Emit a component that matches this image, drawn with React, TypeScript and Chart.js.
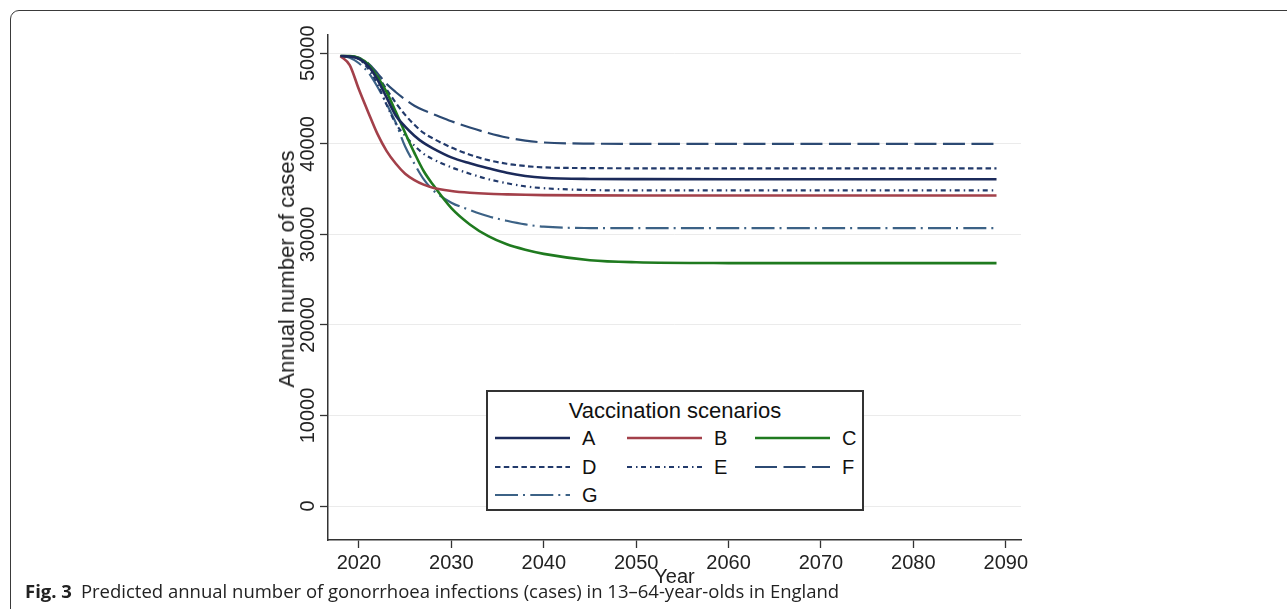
import React, { useEffect, useRef } from "react";
import { Chart, registerables } from "chart.js";

Chart.register(...registerables);

// ---- data ----
const years = [2018, 2019, 2020, 2021, 2022, 2023, 2024, 2025, 2026, 2027, 2028, 2030, 2032, 2034, 2036, 2038, 2040, 2045, 2050, 2060, 2070, 2080, 2089];

const seriesA = [49700, 49650, 49400, 48600, 47100, 45100, 43100, 41900, 40900, 40100, 39500, 38500, 37850, 37300, 36800, 36450, 36250, 36120, 36100, 36090, 36090, 36090, 36090];
const seriesB = [49700, 48700, 46000, 43500, 41100, 39200, 37800, 36700, 36000, 35500, 35150, 34800, 34600, 34480, 34420, 34370, 34340, 34310, 34300, 34300, 34300, 34300, 34300];
const seriesC = [49700, 49700, 49500, 48800, 47400, 45700, 43500, 41200, 39000, 37000, 35500, 32900, 31100, 29800, 28900, 28300, 27850, 27150, 26920, 26830, 26820, 26820, 26820];
const seriesD = [49700, 49650, 49450, 48700, 47500, 46000, 44500, 43200, 42100, 41200, 40600, 39600, 38800, 38200, 37800, 37550, 37400, 37320, 37300, 37300, 37300, 37300, 37300];
const seriesE = [49700, 49650, 49350, 48300, 46600, 44300, 42200, 40900, 39800, 38900, 38300, 37400, 36700, 36100, 35650, 35300, 35100, 34900, 34850, 34850, 34850, 34850, 34850];
const seriesF = [49700, 49700, 49500, 48900, 47800, 46600, 45700, 44900, 44200, 43700, 43300, 42500, 41800, 41200, 40700, 40350, 40150, 40020, 40000, 40000, 40000, 40000, 40000];
const seriesG = [49700, 49500, 48900, 47900, 46300, 44400, 42300, 39700, 37800, 36100, 34900, 33500, 32700, 32000, 31500, 31100, 30850, 30700, 30680, 30680, 30680, 30680, 30680];

const scenarioLabels = ["A", "B", "C", "D", "E", "F", "G"];
const xTicks = [2020, 2030, 2040, 2050, 2060, 2070, 2080, 2090];
const yTicks = [0, 10000, 20000, 30000, 40000, 50000];

const legendTitle = "Vaccination scenarios";
const xTitle = "Year";
const yTitle = "Annual number of cases";
const captionBold = "Fig. 3";
const captionText = "Predicted annual number of gonorrhoea infections (cases) in 13\u201364-year-olds in England";

// ---- styles ----
const styles = [
  { color: "#1b2a5a", width: 2.6, dash: [] as number[] },
  { color: "#a3404a", width: 2.6, dash: [] as number[] },
  { color: "#1f7a1f", width: 2.6, dash: [] as number[] },
  { color: "#223a6b", width: 2.2, dash: [5.5, 3.3] },
  { color: "#223a6b", width: 2.2, dash: [5, 4, 1.5, 3.5] },
  { color: "#2c4a73", width: 2.2, dash: [22, 6.5] },
  { color: "#3c6286", width: 2.2, dash: [23, 5, 2, 5.3] },
];

const allSeries = [seriesA, seriesB, seriesC, seriesD, seriesE, seriesF, seriesG];

const W = 1287;
const H = 609;
const FONT = "'Liberation Sans', Arial, sans-serif";

function LegendSample({ idx }: { idx: number }) {
  const s = styles[idx];
  return (
    <svg width={75} height={8} style={{ display: "block" }}>
      <line
        x1={0}
        y1={4}
        x2={75}
        y2={4}
        stroke={s.color}
        strokeWidth={s.width}
        strokeDasharray={s.dash.length ? s.dash.join(" ") : undefined}
      />
    </svg>
  );
}

export default function App() {
  const canvasRef = useRef<HTMLCanvasElement | null>(null);

  useEffect(() => {
    const canvas = canvasRef.current;
    if (!canvas) return;
    const chart = new Chart(canvas, {
      type: "line",
      data: {
        datasets: scenarioLabels.map((label, i) => ({
          label,
          data: years.map((yr, j) => ({ x: yr, y: allSeries[i][j] })),
          borderColor: styles[i].color,
          backgroundColor: styles[i].color,
          borderWidth: styles[i].width,
          borderDash: styles[i].dash,
          pointRadius: 0,
          cubicInterpolationMode: "monotone" as const,
          fill: false,
        })),
      },
      options: {
        responsive: false,
        maintainAspectRatio: false,
        animation: false,
        layout: { padding: { left: 276, right: W - 1021, top: 35, bottom: 22 } },
        plugins: {
          legend: { display: false },
          tooltip: { enabled: false },
        },
        scales: {
          x: {
            type: "linear",
            min: 2016.65,
            max: 2091.65,
            afterBuildTicks: (s: any) => {
              s.ticks = xTicks.map((v) => ({ value: v }));
            },
            afterFit: (s: any) => {
              s.height = 47;
            },
            ticks: {
              font: { family: FONT, size: 20 },
              color: "#222",
              padding: 3,
              maxRotation: 0,
              autoSkip: false,
              callback: (v: any) => String(v),
            },
            grid: { drawOnChartArea: false, tickLength: 8, tickColor: "#333", tickWidth: 1.3 },
            border: { color: "#333", width: 1.5 },
            title: {
              display: true,
              text: xTitle,
              font: { family: FONT, size: 20, lineHeight: 1 },
              color: "#222",
              padding: 0,
            },
          },
          y: {
            type: "linear",
            min: -3753,
            max: 52020,
            afterBuildTicks: (s: any) => {
              s.ticks = yTicks.map((v) => ({ value: v }));
            },
            afterFit: (s: any) => {
              s.width = 52;
            },
            ticks: {
              font: { family: FONT, size: 20 },
              color: "#222",
              padding: -16,
              crossAlign: "center",
              minRotation: 90,
              maxRotation: 90,
              callback: (v: any) => String(v),
            },
            grid: { color: "#ebebeb", lineWidth: 1, tickLength: 8, tickColor: "#333", tickWidth: 1.3 },
            border: { color: "#333", width: 1.5 },
            title: { display: false },
          },
        },
      },
    });
    return () => chart.destroy();
  }, []);

  const rows = [
    [0, 1, 2],
    [3, 4, 5],
    [6],
  ];
  const colX = [494 - 487, 626 - 487, 754 - 487];
  const rowY = [437 - 391, 466 - 391, 494 - 391];

  return (
    <div style={{ position: "fixed", left: 0, top: 0, width: W, height: H, overflow: "hidden", background: "#fff" }}>
      <div
        style={{
          position: "absolute",
          left: 10,
          top: 10,
          width: 1320,
          height: 700,
          border: "1.4px solid #3a3a3a",
          borderRadius: 9,
          boxSizing: "border-box",
        }}
      />
      <canvas ref={canvasRef} width={W} height={H} style={{ position: "absolute", left: 0, top: 0, width: W, height: H }} />
      <div
        style={{
          position: "absolute",
          left: 287,
          top: 269,
          transform: "translate(-50%, -50%) rotate(-90deg)",
          fontFamily: FONT,
          fontSize: 22,
          lineHeight: "24px",
          color: "#222",
          whiteSpace: "nowrap",
        }}
      >
        {yTitle}
      </div>
      <div
        style={{
          position: "absolute",
          left: 486,
          top: 390,
          width: 378,
          height: 121,
          boxSizing: "border-box",
          border: "2px solid #333",
          background: "#fff",
          fontFamily: FONT,
          color: "#111",
        }}
      >
        <div
          style={{
            position: "absolute",
            left: 0,
            right: 0,
            top: 6,
            textAlign: "center",
            fontSize: 22,
            lineHeight: "26px",
          }}
        >
          {legendTitle}
        </div>
        {rows.map((row, r) =>
          row.map((idx, c) => (
            <div
              key={idx}
              style={{ position: "absolute", left: colX[c], top: rowY[r] - 12, height: 24, display: "flex", alignItems: "center" }}
            >
              <LegendSample idx={idx} />
              <span style={{ marginLeft: 12, fontSize: 20, lineHeight: "24px" }}>{scenarioLabels[idx]}</span>
            </div>
          ))
        )}
      </div>
      <div
        style={{
          position: "absolute",
          left: 25,
          top: 579,
          fontFamily: "'Open Sans', 'Noto Sans', sans-serif",
          fontSize: 18.5,
          lineHeight: "24px",
          color: "#222",
          whiteSpace: "nowrap",
        }}
      >
        <span style={{ fontWeight: 700 }}>{captionBold}</span>
        <span style={{ marginLeft: 9 }}>{captionText}</span>
      </div>
    </div>
  );
}
